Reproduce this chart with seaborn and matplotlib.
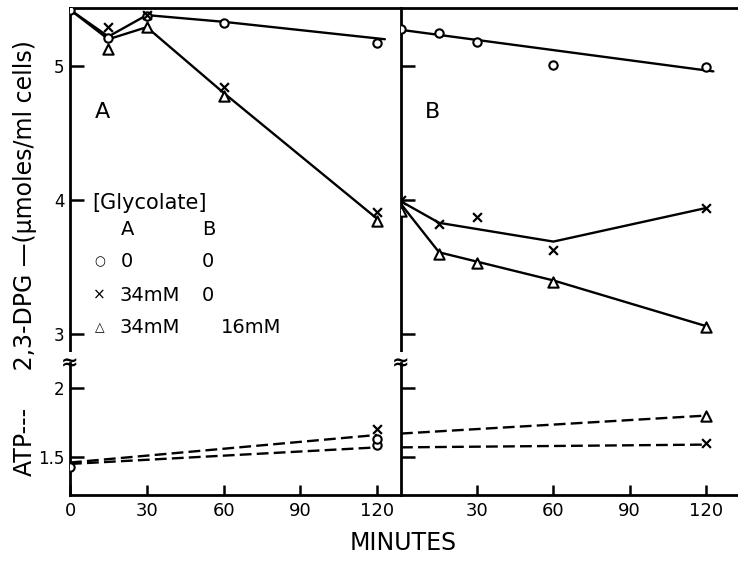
import matplotlib
matplotlib.use('Agg')
import matplotlib.pyplot as plt
import seaborn as sns

# ---- data ----
minutes = [0, 15, 30, 60, 120]

# panel A, 2,3-DPG markers
A_dpg_control = [5.42, 5.21, 5.37, 5.32, 5.17]
A_dpg_glyc34 = [None, 5.29, 5.38, 4.84, 3.91]
A_dpg_glyc34_16 = [None, 5.13, 5.29, 4.78, 3.84]
# panel A, drawn curves
A_fit_top_x = [0, 15, 30, 60, 123]
A_fit_top_y = [5.42, 5.22, 5.38, 5.33, 5.20]
A_fit_low_x = [0, 15, 30, 60, 120]
A_fit_low_y = [5.42, 5.20, 5.29, 4.80, 3.86]

# panel A, ATP
atp_x = [0, 120]
A_atp_control = [1.43, 1.59]
A_atp_glyc34 = [None, 1.70]
A_atp_glyc34_16 = [None, 1.63]
A_atp_fit1 = [1.46, 1.66]
A_atp_fit2 = [1.45, 1.57]

# panel B, 2,3-DPG markers
B_dpg_control = [5.28, 5.25, 5.18, 5.01, 4.99]
B_dpg_glyc34 = [4.00, 3.82, 3.87, 3.63, 3.94]
B_dpg_glyc34_16 = [3.92, 3.60, 3.53, 3.39, 3.05]
# panel B, drawn curves
B_fit_control_x = [0, 123]
B_fit_control_y = [5.27, 4.96]
B_fit_cross_x = [0, 15, 60, 120]
B_fit_cross_y = [3.99, 3.83, 3.69, 3.94]
B_fit_tri_x = [0, 15, 30, 60, 120]
B_fit_tri_y = [3.97, 3.61, 3.54, 3.40, 3.06]

# panel B, ATP
B_atp_glyc34 = [None, 1.60]
B_atp_glyc34_16 = [None, 1.80]
B_atp_fit1 = [1.67, 1.80]
B_atp_fit2 = [1.57, 1.59]

sns.set_style('ticks')
plt.rcParams['font.family'] = ['DejaVu Sans']
plt.rcParams.update({'text.color': 'black', 'axes.edgecolor': 'black',
                     'xtick.color': 'black', 'ytick.color': 'black',
                     'axes.labelcolor': 'black'})

W, H = 738, 565
fig = plt.figure(figsize=(W / 100, H / 100), dpi=100)


def box(x0, x1, y0, y1):
    return [x0 / W, 1 - y1 / H, (x1 - x0) / W, (y1 - y0) / H]


axA_up = fig.add_axes(box(70, 401, 8, 363))
axA_lo = fig.add_axes(box(70, 401, 363, 495))
axB_up = fig.add_axes(box(401, 738, 8, 363))
axB_lo = fig.add_axes(box(401, 738, 363, 495))

LW = 1.7
DASH = (0, (5, 2.2))


def line(ax, x, y, ls='-'):
    sns.lineplot(x=x, y=y, ax=ax, color='k', lw=LW, linestyle=ls,
                 estimator=None, sort=False)


def marks(ax, x, y, kind):
    pts = [(a, b) for a, b in zip(x, y) if b is not None]
    xs = [p[0] for p in pts]
    ys = [p[1] for p in pts]
    if kind == 'o':
        sns.scatterplot(x=xs, y=ys, ax=ax, marker='o', s=36, fc='white',
                        ec='k', linewidth=1.5, zorder=5)
    elif kind == '^':
        sns.scatterplot(x=xs, y=ys, ax=ax, marker='^', s=55, fc='white',
                        ec='k', linewidth=1.5, zorder=5)
    else:
        sns.scatterplot(x=xs, y=ys, ax=ax, marker='x', s=40, color='k',
                        linewidth=1.6, zorder=6)


# panel A
line(axA_up, A_fit_top_x, A_fit_top_y)
line(axA_up, A_fit_low_x, A_fit_low_y)
marks(axA_up, minutes, A_dpg_control, 'o')
marks(axA_up, minutes, A_dpg_glyc34_16, '^')
marks(axA_up, minutes, A_dpg_glyc34, 'x')
line(axA_lo, atp_x, A_atp_fit1, DASH)
line(axA_lo, atp_x, A_atp_fit2, DASH)
marks(axA_lo, atp_x, A_atp_control, 'o')
marks(axA_lo, atp_x, A_atp_glyc34_16, 'o')
marks(axA_lo, atp_x, A_atp_glyc34, 'x')

# panel B
line(axB_up, B_fit_control_x, B_fit_control_y)
line(axB_up, B_fit_cross_x, B_fit_cross_y)
line(axB_up, B_fit_tri_x, B_fit_tri_y)
marks(axB_up, minutes, B_dpg_control, 'o')
marks(axB_up, minutes, B_dpg_glyc34_16, '^')
marks(axB_up, minutes, B_dpg_glyc34, 'x')
line(axB_lo, atp_x, B_atp_fit1, DASH)
line(axB_lo, atp_x, B_atp_fit2, DASH)
marks(axB_lo, atp_x, B_atp_glyc34_16, '^')
marks(axB_lo, atp_x, B_atp_glyc34, 'x')

for ax in (axA_up, axA_lo):
    ax.set_xlim(0, 129.3)
for ax in (axB_up, axB_lo):
    ax.set_xlim(0, 132.7)
for ax in (axA_up, axB_up):
    ax.set_ylim(2.784, 5.433)
    ax.set_yticks([3, 4, 5])
    ax.set_xticks([])
    ax.spines['bottom'].set_visible(False)
for ax in (axA_lo, axB_lo):
    ax.set_ylim(1.225, 2.181)
    ax.set_yticks([1.5, 2])
    ax.spines['top'].set_visible(False)
axA_lo.set_xticks([0, 30, 60, 90, 120])
axB_lo.set_xticks([30, 60, 90, 120])
axA_up.set_yticklabels(['3', '4', '5'])
axA_lo.set_yticklabels(['1.5', '2'])
axB_up.set_yticklabels([])
axB_lo.set_yticklabels([])

for ax in (axA_up, axA_lo, axB_up, axB_lo):
    ax.patch.set_alpha(0)
    ax.spines['right'].set_visible(False)
    for s in ax.spines.values():
        s.set_linewidth(2.0)
    ax.tick_params(axis='y', direction='in', length=10, width=1.8,
                   labelsize=12, pad=4)
    ax.tick_params(axis='x', direction='in', length=7, width=1.8,
                   labelsize=13, pad=5)
    ax.set_xlabel('')
    ax.set_ylabel('')

# axis break marks
for ax in (axA_up, axB_up):
    ax.text(0, 0, '≈', transform=ax.transAxes, ha='center', va='center',
            fontsize=15, fontweight='bold', zorder=10,
            bbox=dict(fc='white', ec='none', pad=0.5))

# panel letters and legend text
txt = dict(color='k', fontsize=14, va='center')
axA_up.text(12.5, 4.66, 'A', fontsize=16, ha='center', va='center')
axB_up.text(12.6, 4.66, 'B', fontsize=16, ha='center', va='center')
axA_up.text(8.5, 3.98, '[Glycolate]', ha='left', fontsize=15, va='center')
axA_up.text(20.0, 3.78, 'A', ha='left', **txt)
axA_up.text(51.5, 3.78, 'B', ha='left', **txt)
axA_up.text(11.5, 3.54, '○', ha='center', fontsize=9, va='center')
axA_up.text(20.0, 3.54, '0', ha='left', **txt)
axA_up.text(51.5, 3.54, '0', ha='left', **txt)
axA_up.text(11.5, 3.29, '×', ha='center', fontsize=11, va='center')
axA_up.text(19.5, 3.29, '34mM', ha='left', **txt)
axA_up.text(51.5, 3.29, '0', ha='left', **txt)
axA_up.text(11.5, 3.05, '△', ha='center', fontsize=9, va='center')
axA_up.text(19.5, 3.05, '34mM', ha='left', **txt)
axA_up.text(59.0, 3.05, '16mM', ha='left', **txt)

fig.text(403 / W, 1 - 543 / H, 'MINUTES', ha='center', va='center',
         fontsize=17)
fig.text(25 / W, 1 - 258 / H, 'ATP---     2,3-DPG —(μmoles/ml cells)',
         rotation=90, ha='center', va='center', fontsize=17)

fig.savefig('out.png', dpi=100)
